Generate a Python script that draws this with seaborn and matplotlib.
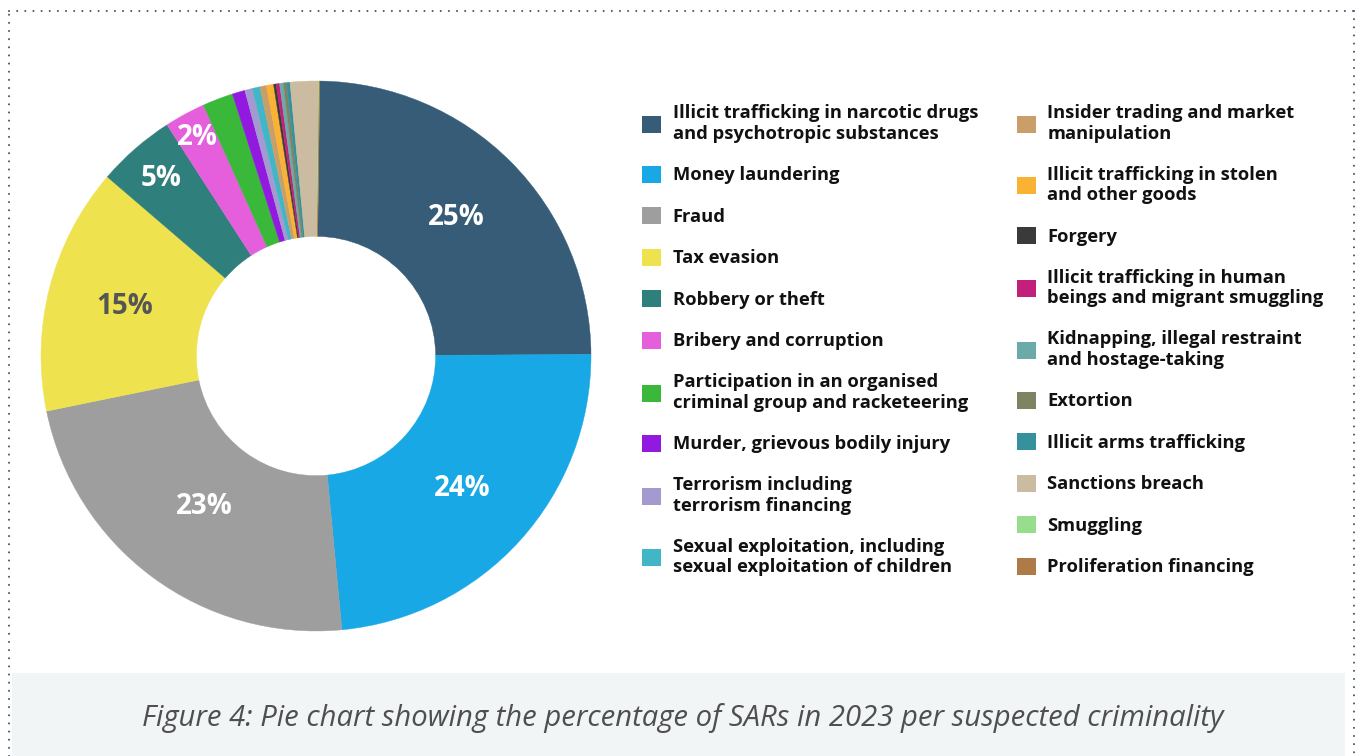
import matplotlib
matplotlib.use("Agg")
import matplotlib.pyplot as plt
from matplotlib.lines import Line2D
from matplotlib.patches import Rectangle, Patch
import numpy as np
import seaborn as sns

# Share of SARs in 2023 per suspected criminality (%)
categories = [
    "Illicit trafficking in narcotic drugs\nand psychotropic substances",
    "Money laundering",
    "Fraud",
    "Tax evasion",
    "Robbery or theft",
    "Bribery and corruption",
    "Participation in an organised\ncriminal group and racketeering",
    "Murder, grievous bodily injury",
    "Terrorism including\nterrorism financing",
    "Sexual exploitation, including\nsexual exploitation of children",
    "Insider trading and market\nmanipulation",
    "Illicit trafficking in stolen\nand other goods",
    "Forgery",
    "Illicit trafficking in human\nbeings and migrant smuggling",
    "Kidnapping, illegal restraint\nand hostage-taking",
    "Extortion",
    "Illicit arms trafficking",
    "Sanctions breach",
    "Smuggling",
    "Proliferation financing",
]
shares = [24.7, 23.6, 23.3, 14.51, 4.6, 2.4, 1.8, 0.75, 0.45, 0.45,
          0.38, 0.42, 0.15, 0.20, 0.22, 0.18, 0.21, 1.65, 0.05, 0.03]
colors = [
    "#365C78", "#17A8E5", "#9E9E9E", "#EEE24F", "#2F7F7D", "#E55FDD",
    "#3AB83A", "#9119E0", "#A59AD0", "#40B6C6", "#C99E69", "#F9B234",
    "#3A3A3A", "#C2207A", "#6BAAA8", "#808362", "#35919B", "#CBBBA0",
    "#98DC8D", "#AE7A48",
]

sns.set_theme(style="white")
plt.rcParams["font.family"] = ["Open Sans", "DejaVu Sans"]

W, H = 1360, 756
fig = plt.figure(figsize=(W / 100, H / 100), dpi=100)
fig.patch.set_facecolor("white")

# donut axes
cx, cy, R = 316, 356, 275
ax = fig.add_axes([(cx - R) / W, (H - cy - R) / H, 2 * R / W, 2 * R / H])

hole = 0.435
wedges, _ = ax.pie(
    shares, colors=colors, startangle=89.2, counterclock=False, radius=1,
    wedgeprops=dict(width=1 - hole, linewidth=0.3),
)
for w, c in zip(wedges, colors):
    w.set_edgecolor(c)
ax.set_xlim(-1, 1)
ax.set_ylim(-1, 1)
ax.set_aspect("equal")
ax.axis("off")

# percentage labels on the larger slices
total = sum(shares)
label_r = {2: 0.68, 4: 0.855, 5: 0.905}
for i, (w, v) in enumerate(zip(wedges, shares)):
    pct = v / total * 100
    if pct < 2:
        continue
    ang = np.deg2rad((w.theta1 + w.theta2) / 2)
    r = label_r.get(i, (1 + hole) / 2)
    col = "#555555" if i == 3 else "white"
    ax.text(r * np.cos(ang), r * np.sin(ang), f"{pct:.0f}%", ha="center",
            va="center", fontsize=20, fontweight="bold", color=col)

# legend in two columns
handles = [Patch(facecolor=c, edgecolor="none") for c in colors]
fig.legend(handles, categories, ncol=2, loc="upper left",
           bbox_to_anchor=(642 / W, 1 - 104 / H), frameon=False,
           prop=dict(family="Open Sans", weight="bold", size=13.2),
           handlelength=1.05, handleheight=1.05, handletextpad=0.62,
           labelspacing=1.24, columnspacing=2.1, borderpad=0, borderaxespad=0,
           labelcolor="#111111")

# caption band
fig.add_artist(Rectangle((12 / W, 0), (1345 - 12) / W, (H - 673) / H,
                         transform=fig.transFigure, facecolor="#F2F5F6",
                         edgecolor="none", zorder=0))
fig.text(683 / W, 1 - 718 / H,
         "Figure 4: Pie chart showing the percentage of SARs in 2023 per suspected criminality",
         ha="center", va="center", fontsize=21.1, style="italic",
         color="#4F4F4F", family="Open Sans")

# dotted frame
frame_kw = dict(transform=fig.transFigure, color="#3E5A72", linewidth=1.5,
                linestyle=(0, (0.01, 3.9)), dash_capstyle="round")
xl, xr, yt = 9 / W, 1353.5 / W, 1 - 11 / H
fig.add_artist(Line2D([xl, xl], [0, yt], **frame_kw))
fig.add_artist(Line2D([xl, xr], [yt, yt], **frame_kw))
fig.add_artist(Line2D([xr, xr], [yt, 0], **frame_kw))

fig.savefig("out.png", dpi=100, facecolor="white")
